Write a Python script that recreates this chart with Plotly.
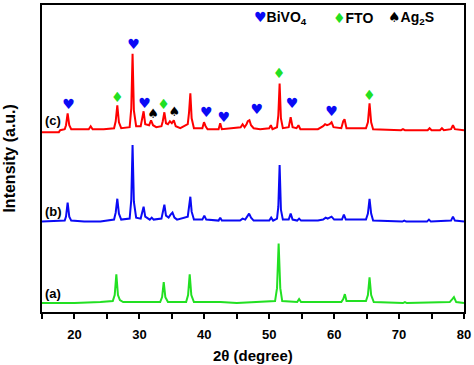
import plotly.graph_objects as go

# 2-theta (degree) and intensity (a.u., above each pattern's own baseline)
red_theta = [15, 17.6, 17.8, 18.5, 18.7, 18.95, 19.2, 19.5, 22.2, 22.5, 22.8, 24.5, 26.1, 26.35, 26.6, 26.85, 27.2,
             28.5, 28.75, 28.95, 29.15, 29.5, 30.2, 30.45, 30.65, 30.9, 31.5, 31.8, 32.1, 32.6, 33.4, 33.6, 33.85,
             34.1, 34.4, 34.7, 35.0, 35.3, 35.6, 36.3, 37.45, 37.65, 37.85, 38.05, 38.4, 39.7, 39.95, 40.2, 40.5,
             42.2, 42.45, 42.7, 45.6, 45.9, 46.2, 46.5, 46.7, 46.95, 47.2, 47.6, 48.6, 50.0, 50.25, 50.5, 51.2,
             51.4, 51.6, 51.8, 52.1, 53.0, 53.3, 53.6, 54.2, 54.5, 54.8, 57.5, 58.3, 58.6, 58.9, 59.3, 59.6, 59.9,
             61.1, 61.4, 61.6, 61.9, 64.9, 65.2, 65.45, 65.7, 66.0, 70.3, 70.6, 70.9, 74.4, 74.7, 75.0, 76.3, 76.6,
             76.9, 78.0, 78.3, 78.6, 80]
red_int = [-2, -2, 0, 1, 5, 17, 5, 1, 1, 4, 1, 1, 2, 9, 25, 8, 2,
           3, 22, 77, 20, 4, 4, 14, 19, 6, 5, 10, 5, 3, 4, 9, 18,
           7, 6, 9, 7, 10, 4, 2, 6, 18, 37, 12, 2, 2, 8, 4, 1,
           1, 7, 1, 3, 6, 3, 6, 9, 10, 5, 2, 1, 2, 5, 1, 3,
           15, 47, 12, 2, 3, 13, 3, 2, 5, 1, 1, 4, 6, 5, 6, 8, 3,
           2, 9, 11, 2, 2, 8, 27, 8, 1, 0, 1, 0, 0, 2, 0, 0, 2,
           0, 1, 5, 1, 0]

blue_theta = [15, 18.5, 18.7, 18.95, 19.2, 19.5, 21.5, 24, 26.1, 26.35, 26.6, 26.85, 27.2, 28.5, 28.75, 28.95, 29.15,
              29.5, 30.2, 30.45, 30.65, 30.9, 31.6, 31.9, 32.2, 33.4, 33.6, 33.85, 34.1, 34.5, 34.8, 35.1, 35.4, 35.8,
              37.45, 37.65, 37.85, 38.05, 38.4, 39.7, 40.0, 40.3, 42.2, 42.45, 42.7, 45.5, 45.9, 46.3, 46.6, 46.9,
              47.2, 47.6, 50.0, 50.3, 50.6, 51.2, 51.4, 51.6, 51.8, 52.1, 53.0, 53.3, 53.6, 54.3, 54.6, 54.9, 57.5,
              58.3, 58.7, 59.0, 59.3, 59.6, 60.0, 61.2, 61.5, 61.8, 64.9, 65.2, 65.45, 65.7, 66.0, 70.5, 70.8, 71.1,
              74.3, 74.6, 74.9, 78.0, 78.3, 78.6, 80]
blue_int = [0, 1, 5, 19, 5, 1, 0, 0, 2, 9, 23, 8, 2, 3, 22, 77, 20,
            4, 3, 11, 15, 5, 2, 4, 2, 3, 8, 17, 6, 4, 7, 9, 4, 2,
            5, 13, 25, 10, 2, 2, 6, 2, 1, 4, 1, 1, 3, 2, 5, 8,
            4, 1, 1, 4, 1, 3, 15, 57, 12, 2, 2, 8, 2, 1, 3, 1, 1,
            2, 4, 3, 4, 5, 2, 2, 7, 2, 2, 8, 23, 8, 1, 0, 1, 0,
            0, 2, 0, 1, 5, 1, 0]

green_theta = [15, 20, 24, 25.9, 26.2, 26.45, 26.7, 27.0, 27.5, 33.2, 33.5, 33.75, 34.0, 34.4, 37.2, 37.5, 37.75, 38.0,
               38.4, 42.5, 45, 50.9, 51.2, 51.45, 51.7, 52.0, 54.3, 54.6, 54.9, 61.1, 61.4, 61.65, 61.9, 64.9, 65.2,
               65.45, 65.7, 66.1, 70.6, 70.9, 71.2, 77.8, 78.2, 78.45, 78.8, 80]
green_int = [0, 0, 1, 2, 8, 29, 8, 3, 1, 1, 6, 21, 6, 1, 1, 8, 29, 8,
             1, 1, 0, 2, 15, 60, 15, 2, 1, 4, 1, 1, 4, 9, 2, 2, 8,
             26, 8, 1, 0, 1, 0, 1, 4, 6, 1, 0]

# phase markers (2-theta, absolute intensity on the stacked scale)
bivo4_theta = [19.1, 29.1, 30.8, 40.3, 43.0, 48.1, 53.5, 59.6]
bivo4_int = [208, 268, 209, 200, 195, 203, 209, 201]
fto_theta = [26.6, 33.7, 51.5, 65.4]
fto_int = [215, 208, 239, 217]
ag2s_theta = [32.1, 35.4]
ag2s_int = [199, 201]

x_ticks = [20, 30, 40, 50, 60, 70, 80]
sample_labels = ["(a)", "(b)", "(c)"]

# vertical offsets for stacking
offsets = {"a": 9, "b": 91, "c": 183}

RED, BLUE, GREEN = "#ff0000", "#0a0af5", "#22e022"
FONT = "Liberation Sans, Arial, sans-serif"

fig = go.Figure()
fig.add_trace(go.Scatter(x=green_theta, y=[v + offsets["a"] for v in green_int], mode="lines",
                         line=dict(color=GREEN, width=2), showlegend=False))
fig.add_trace(go.Scatter(x=blue_theta, y=[v + offsets["b"] for v in blue_int], mode="lines",
                         line=dict(color=BLUE, width=2), showlegend=False))
fig.add_trace(go.Scatter(x=red_theta, y=[v + offsets["c"] for v in red_int], mode="lines",
                         line=dict(color=RED, width=2), showlegend=False))

fig.add_trace(go.Scatter(x=bivo4_theta, y=bivo4_int, mode="text", text=["♥"] * len(bivo4_theta),
                         textfont=dict(color=BLUE, size=14, family="DejaVu Sans"), showlegend=False))
fig.add_trace(go.Scatter(x=fto_theta, y=fto_int, mode="text", text=["♦"] * len(fto_theta),
                         textfont=dict(color=GREEN, size=14, family="DejaVu Sans"), showlegend=False))
fig.add_trace(go.Scatter(x=ag2s_theta, y=ag2s_int, mode="text", text=["♠"] * len(ag2s_theta),
                         textfont=dict(color="black", size=13, family="DejaVu Sans"), showlegend=False))

# sample labels
for lab, key in zip(sample_labels, ["a", "b", "c"]):
    fig.add_annotation(x=15.2, y=offsets[key] + 10, xref="x", yref="y", text=f"<b>{lab}</b>",
                       showarrow=False, xanchor="left", yanchor="middle",
                       font=dict(family=FONT, size=13, color="black"))

# phase legend
legend_items = [
    (f"<span style='color:{BLUE};font-family:DejaVu Sans'>♥</span><b>BiVO<sub>4</sub></b>", 0.498),
    (f"<span style='color:{GREEN};font-family:DejaVu Sans'>♦</span><b>FTO</b>", 0.686),
    ("<span style='font-family:DejaVu Sans'>♠</span><b>Ag<sub>2</sub>S</b>", 0.815),
]
for txt, xp in legend_items:
    fig.add_annotation(x=xp, y=0.958, xref="paper", yref="paper", text=txt, showarrow=False,
                       xanchor="left", yanchor="middle", font=dict(family=FONT, size=14, color="black"))

# axis titles
fig.add_annotation(x=-0.078, y=0.5, xref="paper", yref="paper", text="<b>Intensity (a.u.)</b>",
                   textangle=-90, showarrow=False, xanchor="center", yanchor="middle",
                   font=dict(family=FONT, size=16, color="black"))
fig.add_annotation(x=0.5, y=-0.143, xref="paper", yref="paper", text="<b>2θ (degree)</b>",
                   showarrow=False, xanchor="center", yanchor="middle",
                   font=dict(family=FONT, size=15, color="black"))

fig.update_layout(
    width=474, height=365,
    margin=dict(l=42, r=9, t=3, b=53),
    paper_bgcolor="white", plot_bgcolor="white",
    xaxis=dict(range=[15, 80], tickvals=x_ticks, ticktext=[f"<b>{t}</b>" for t in x_ticks],
               ticks="outside", ticklen=5, tickwidth=1.5, tickcolor="black", ticklabelstandoff=4,
               minor=dict(tickvals=[15, 25, 35, 45, 55, 65, 75], ticks="outside", ticklen=5,
                          tickwidth=1.5, tickcolor="black"),
               showline=True, linecolor="black", linewidth=2, mirror=True, showgrid=False,
               zeroline=False, tickfont=dict(family=FONT, size=13, color="black")),
    yaxis=dict(range=[0, 309], showticklabels=False, ticks="", showline=True, linecolor="black",
               linewidth=2, mirror=True, showgrid=False, zeroline=False),
)

fig.write_html("out.html", config={"displayModeBar": False},
               post_script="document.body.style.margin='0';document.body.style.padding='0';")
